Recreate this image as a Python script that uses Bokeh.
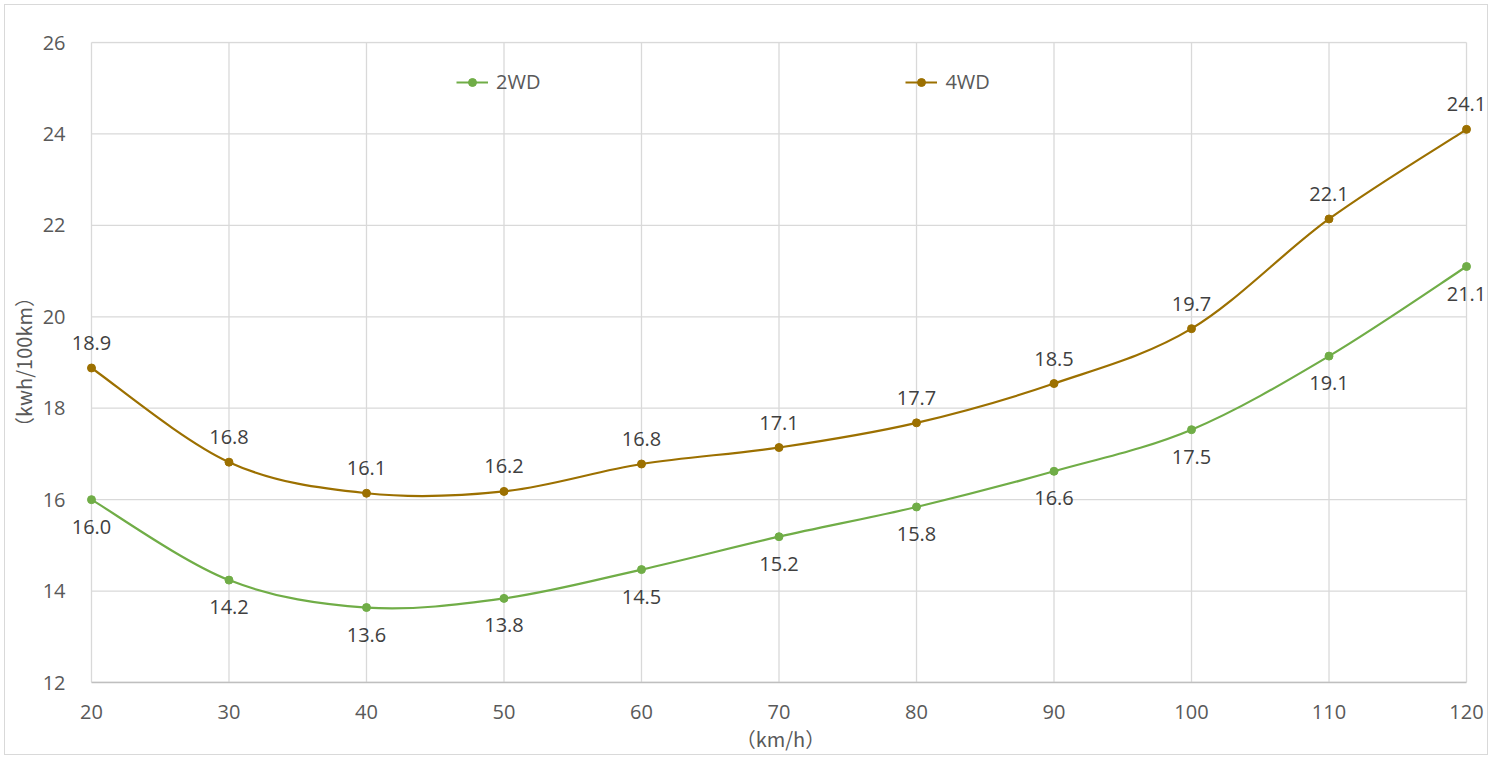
from bokeh.plotting import figure
from bokeh.models import Legend, LegendItem, ColumnDataSource, FixedTicker, Range1d, Label
from bokeh.embed import file_html
from bokeh.resources import INLINE

# ---- data ----
speeds = [20, 30, 40, 50, 60, 70, 80, 90, 100, 110, 120]
wd2 = [16.0, 14.24, 13.64, 13.84, 14.47, 15.19, 15.84, 16.62, 17.53, 19.14, 21.1]
wd4 = [18.88, 16.82, 16.14, 16.18, 16.78, 17.14, 17.68, 18.54, 19.74, 22.14, 24.1]
series_names = ["2WD", "4WD"]
series_colors = ["#70AD47", "#9C7000"]
x_ticks = [20, 30, 40, 50, 60, 70, 80, 90, 100, 110, 120]
y_ticks = [12, 14, 16, 18, 20, 22, 24, 26]
x_title = "（km/h）"
y_title = "（kwh/100km）"

NUM_FONT = "Open Sans"
CJK_FONT = "Noto Sans CJK SC"
GRID = "#D9D9D9"


def smooth_segments(xs, ys):
    """Catmull-Rom style bezier control points (Excel 'smoothed line')."""
    n = len(xs)
    seg = dict(x0=[], y0=[], x1=[], y1=[], cx0=[], cy0=[], cx1=[], cy1=[])
    for i in range(n - 1):
        xm, ym = (xs[i - 1], ys[i - 1]) if i > 0 else (xs[i], ys[i])
        xp, yp = (xs[i + 2], ys[i + 2]) if i + 2 < n else (xs[i + 1], ys[i + 1])
        seg["x0"].append(xs[i]); seg["y0"].append(ys[i])
        seg["x1"].append(xs[i + 1]); seg["y1"].append(ys[i + 1])
        seg["cx0"].append(xs[i] + (xs[i + 1] - xm) / 6.0)
        seg["cy0"].append(ys[i] + (ys[i + 1] - ym) / 6.0)
        seg["cx1"].append(xs[i + 1] - (xp - xs[i]) / 6.0)
        seg["cy1"].append(ys[i + 1] - (yp - ys[i]) / 6.0)
    return seg


# frame is a little wider than the 20..120 axis so that edge labels are not clipped
p = figure(width=1484, height=751, output_backend="svg", toolbar_location=None,
           x_range=Range1d(x_ticks[0] - 1.4535, x_ticks[-1] + 1.6715),
           y_range=Range1d(y_ticks[0], y_ticks[-1] + 0.022),
           min_border_left=65, min_border_right=0, min_border_top=36, min_border_bottom=74)
p.styles = {"border": "1px solid #D9D9D9", "margin-left": "4px", "margin-top": "4px"}
p.outline_line_color = None
p.background_fill_color = "white"
p.border_fill_color = "white"
p.grid.visible = False

# grid lines limited to the axis extent
nx, ny = len(x_ticks), len(y_ticks)
p.segment(x0=x_ticks, y0=[y_ticks[0]] * nx, x1=x_ticks, y1=[y_ticks[-1]] * nx,
          line_color=GRID, line_width=1.3)
p.segment(x0=[x_ticks[0]] * ny, y0=y_ticks, x1=[x_ticks[-1]] * ny, y1=y_ticks,
          line_color=GRID, line_width=1.3)

p.xaxis.ticker = FixedTicker(ticks=x_ticks)
p.yaxis.ticker = FixedTicker(ticks=y_ticks)
p.xaxis.bounds = (x_ticks[0], x_ticks[-1])
p.yaxis.bounds = (y_ticks[0], y_ticks[-1])

for ax in (p.xaxis[0], p.yaxis[0]):
    ax.axis_line_color = "#BFBFBF"
    ax.axis_line_width = 1.3
    ax.major_tick_line_color = None
    ax.minor_tick_line_color = None
    ax.major_label_text_font = NUM_FONT
    ax.major_label_text_font_size = "20px"
    ax.major_label_text_color = "#595959"
    ax.axis_label_text_font = CJK_FONT
    ax.axis_label_text_font_size = "20px"
    ax.axis_label_text_color = "#595959"
    ax.axis_label_text_font_style = "normal"

p.yaxis.axis_line_color = None
p.xaxis.axis_label = x_title
p.yaxis.axis_label = y_title
p.xaxis.major_label_standoff = 16
p.yaxis.major_label_standoff = 0
p.xaxis.axis_label_standoff = 2
p.yaxis.axis_label_standoff = 2

items = []
for name, ys, col, off in zip(series_names, [wd2, wd4], series_colors, [-27, 25]):
    seg = ColumnDataSource(smooth_segments(speeds, ys))
    r_line = p.bezier(x0="x0", y0="y0", x1="x1", y1="y1", cx0="cx0", cy0="cy0",
                      cx1="cx1", cy1="cy1", source=seg, line_color=col, line_width=2.2)
    src = ColumnDataSource(dict(x=speeds, y=ys))
    r_pts = p.scatter("x", "y", source=src, size=8, fill_color=col, line_color=col)
    for xv, yv in zip(speeds, ys):
        p.add_layout(Label(x=xv, y=yv, text=f"{yv:.1f}", y_offset=off,
                           text_align="center", text_baseline="middle",
                           text_font=NUM_FONT, text_font_size="20px",
                           text_color="#404040"))
    items.append(LegendItem(label=name, renderers=[r_line, r_pts]))

legend = Legend(items=items, orientation="horizontal", location=(385, 587),
                spacing=365, padding=0, margin=0, glyph_width=32, glyph_height=20,
                label_height=20, label_standoff=8, background_fill_alpha=0,
                border_line_color=None, label_text_font=NUM_FONT,
                label_text_font_size="20px", label_text_color="#595959")
p.add_layout(legend)

open("out.html", "w").write(file_html(p, INLINE))
